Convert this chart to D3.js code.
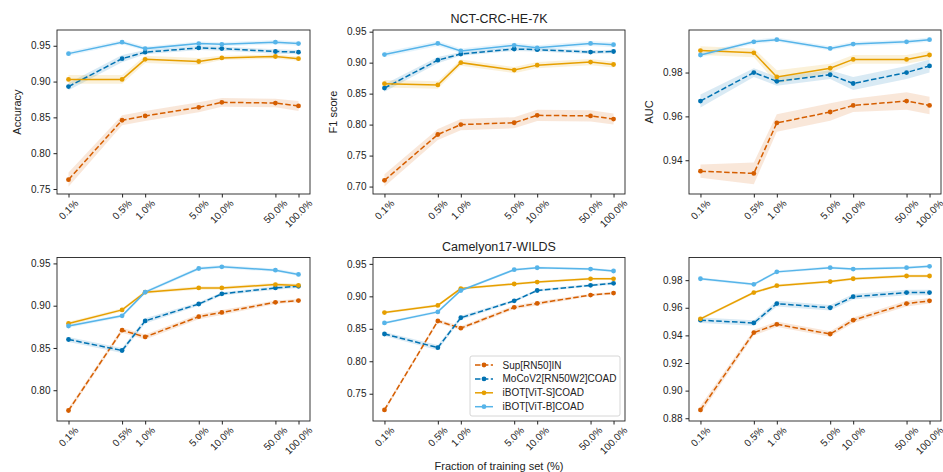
<!DOCTYPE html>
<html>
<head>
<meta charset="utf-8">
<script src="https://cdn.jsdelivr.net/npm/d3@7"></script>
<style>
  body { margin: 0; background: #fff; }
  text { font-family: "Liberation Sans", Arial, sans-serif; fill: #222; }
</style>
</head>
<body>
<svg width="943" height="472"></svg>
<script>
// x positions (fraction of training set, %)
const fractions = [0.1, 0.5, 1, 5, 10, 50, 100];
const fractionLabels = ["0.1%", "0.5%", "1.0%", "5.0%", "10.0%", "50.0%", "100.0%"];

const seriesNames = ["Sup[RN50]IN", "MoCoV2[RN50W2]COAD", "iBOT[ViT-S]COAD", "iBOT[ViT-B]COAD"];
const seriesColors = ["#D55E00", "#0072B2", "#E69F00", "#56B4E9"];
const seriesDashed = [true, true, false, false];

// rows: Sup, MoCo, iBOT-S, iBOT-B
const nctAccuracy = [
  [0.763, 0.846, 0.852, 0.864, 0.871, 0.870, 0.866],
  [0.893, 0.932, 0.941, 0.947, 0.946, 0.942, 0.941],
  [0.903, 0.903, 0.931, 0.928, 0.933, 0.935, 0.932],
  [0.939, 0.955, 0.946, 0.953, 0.952, 0.955, 0.953]
];
const nctAccuracyStd = [
  [0.010, 0.007, 0.007, 0.007, 0.006, 0.006, 0.007],
  [0.005, 0.005, 0.003, 0.003, 0.003, 0.003, 0.003],
  [0.006, 0.006, 0.005, 0.005, 0.003, 0.003, 0.003],
  [0.003, 0.003, 0.003, 0.003, 0.003, 0.003, 0.003]
];
const nctF1 = [
  [0.710, 0.784, 0.800, 0.803, 0.815, 0.814, 0.809],
  [0.859, 0.904, 0.914, 0.922, 0.921, 0.917, 0.918],
  [0.866, 0.864, 0.900, 0.888, 0.896, 0.901, 0.897],
  [0.913, 0.931, 0.919, 0.928, 0.924, 0.931, 0.929]
];
const nctF1Std = [
  [0.010, 0.009, 0.009, 0.009, 0.009, 0.009, 0.009],
  [0.006, 0.005, 0.003, 0.003, 0.003, 0.003, 0.003],
  [0.006, 0.006, 0.005, 0.005, 0.005, 0.005, 0.005],
  [0.004, 0.004, 0.004, 0.004, 0.004, 0.004, 0.004]
];
const nctAUC = [
  [0.935, 0.934, 0.957, 0.962, 0.965, 0.967, 0.965],
  [0.967, 0.980, 0.976, 0.979, 0.975, 0.980, 0.983],
  [0.990, 0.989, 0.978, 0.982, 0.986, 0.986, 0.988],
  [0.988, 0.994, 0.995, 0.991, 0.993, 0.994, 0.995]
];
const nctAUCStd = [
  [0.003, 0.005, 0.004, 0.004, 0.003, 0.004, 0.004],
  [0.003, 0.002, 0.002, 0.002, 0.003, 0.003, 0.003],
  [0.002, 0.002, 0.003, 0.002, 0.002, 0.002, 0.002],
  [0.001, 0.001, 0.001, 0.001, 0.001, 0.001, 0.001]
];
const camAccuracy = [
  [0.776, 0.871, 0.863, 0.887, 0.892, 0.904, 0.906],
  [0.860, 0.847, 0.882, 0.902, 0.914, 0.921, 0.923],
  [0.879, 0.895, 0.916, 0.921, 0.921, 0.925, 0.924],
  [0.876, 0.888, 0.916, 0.944, 0.946, 0.942, 0.937]
];
const camAccuracyStd = [
  [0.003, 0.003, 0.003, 0.003, 0.003, 0.002, 0.002],
  [0.003, 0.003, 0.003, 0.002, 0.002, 0.002, 0.002],
  [0.002, 0.002, 0.002, 0.002, 0.002, 0.002, 0.002],
  [0.002, 0.002, 0.002, 0.002, 0.002, 0.002, 0.002]
];
const camF1 = [
  [0.725, 0.862, 0.851, 0.883, 0.889, 0.902, 0.905],
  [0.842, 0.821, 0.867, 0.893, 0.909, 0.917, 0.920],
  [0.875, 0.886, 0.912, 0.919, 0.922, 0.927, 0.927],
  [0.859, 0.876, 0.909, 0.941, 0.944, 0.942, 0.939]
];
const camF1Std = [
  [0.003, 0.003, 0.003, 0.003, 0.003, 0.002, 0.002],
  [0.003, 0.004, 0.003, 0.002, 0.002, 0.002, 0.002],
  [0.002, 0.002, 0.002, 0.002, 0.002, 0.002, 0.002],
  [0.002, 0.002, 0.002, 0.002, 0.002, 0.002, 0.002]
];
const camAUC = [
  [0.886, 0.942, 0.948, 0.941, 0.951, 0.963, 0.965],
  [0.951, 0.949, 0.963, 0.960, 0.968, 0.971, 0.971],
  [0.952, 0.971, 0.976, 0.979, 0.981, 0.983, 0.983],
  [0.981, 0.977, 0.986, 0.989, 0.988, 0.989, 0.990]
];
const camAUCStd = [
  [0.003, 0.002, 0.002, 0.002, 0.002, 0.002, 0.002],
  [0.002, 0.002, 0.002, 0.002, 0.002, 0.002, 0.002],
  [0.001, 0.001, 0.001, 0.001, 0.001, 0.001, 0.001],
  [0.001, 0.001, 0.001, 0.001, 0.001, 0.001, 0.001]
];

// panel config
const panels = [
  { data: nctAccuracy, std: nctAccuracyStd, col: 0, row: 0, yDomain: [0.743, 0.972], yTicks: [0.75, 0.80, 0.85, 0.90, 0.95], ylabel: "Accuracy" },
  { data: nctF1, std: nctF1Std, col: 1, row: 0, yDomain: [0.688, 0.9527], yTicks: [0.70, 0.75, 0.80, 0.85, 0.90, 0.95], ylabel: "F1 score", title: "NCT-CRC-HE-7K" },
  { data: nctAUC, std: nctAUCStd, col: 2, row: 0, yDomain: [0.9246, 0.9994], yTicks: [0.94, 0.96, 0.98], ylabel: "AUC" },
  { data: camAccuracy, std: camAccuracyStd, col: 0, row: 1, yDomain: [0.7636, 0.957], yTicks: [0.80, 0.85, 0.90, 0.95] },
  { data: camF1, std: camF1Std, col: 1, row: 1, yDomain: [0.708, 0.9598], yTicks: [0.75, 0.80, 0.85, 0.90, 0.95], title: "Camelyon17-WILDS", legend: true },
  { data: camAUC, std: camAUCStd, col: 2, row: 1, yDomain: [0.878, 0.9964], yTicks: [0.88, 0.90, 0.92, 0.94, 0.96, 0.98] }
];

const svg = d3.select("svg");
const colX = [[57, 310], [373, 625], [689, 941]];
const rowY = [[30, 194], [257.5, 421]];
const fontSize = 10;

panels.forEach(p => {
  const [x0, x1] = colX[p.col], [y0, y1] = rowY[p.row];
  const x = d3.scaleLog().domain([Math.pow(10, -1.15), Math.pow(10, 2.15)]).range([x0, x1]);
  const y = d3.scaleLinear().domain(p.yDomain).range([y1, y0]);
  const g = svg.append("g");

  // bands
  p.data.forEach((vals, si) => {
    const area = d3.area()
      .x((d, i) => x(fractions[i]))
      .y0((d, i) => y(d - p.std[si][i]))
      .y1((d, i) => y(d + p.std[si][i]));
    g.append("path").attr("d", area(vals))
      .attr("fill", seriesColors[si]).attr("fill-opacity", 0.15);
  });
  // lines
  p.data.forEach((vals, si) => {
    const line = d3.line().x((d, i) => x(fractions[i])).y(d => y(d));
    g.append("path").attr("d", line(vals))
      .attr("fill", "none").attr("stroke", seriesColors[si]).attr("stroke-width", 1.5)
      .attr("stroke-dasharray", seriesDashed[si] ? "5.5,2.4" : null);
    g.selectAll(null).data(vals).enter().append("circle")
      .attr("cx", (d, i) => x(fractions[i])).attr("cy", d => y(d)).attr("r", 2.4)
      .attr("fill", seriesColors[si]);
  });

  // frame
  g.append("rect").attr("x", x0).attr("y", y0).attr("width", x1 - x0).attr("height", y1 - y0)
    .attr("fill", "none").attr("stroke", "#222").attr("stroke-width", 0.9);

  // y axis
  const yAxis = d3.axisLeft(y).tickValues(p.yTicks).tickFormat(d3.format(".2f")).tickSize(3.5).tickPadding(3);
  const ya = g.append("g").attr("transform", `translate(${x0},0)`).call(yAxis);
  ya.select(".domain").remove();
  ya.selectAll("line").attr("stroke", "#222");
  ya.selectAll("text").attr("font-size", fontSize).attr("fill", "#222")
    .style("font-family", "'Liberation Sans', Arial, sans-serif");

  // x axis, labels rotated 45 degrees and centred on the tick
  const xAxis = d3.axisBottom(x).tickValues(fractions).tickFormat("").tickSize(3.5);
  const xa = g.append("g").attr("transform", `translate(0,${y1})`).call(xAxis);
  xa.select(".domain").remove();
  xa.selectAll("line").attr("stroke", "#222");
  fractions.forEach((f, i) => {
    const t = g.append("text").attr("font-size", fontSize)
      .attr("text-anchor", "middle").attr("dominant-baseline", "central")
      .text(fractionLabels[i]);
    const w = t.node().getComputedTextLength();
    const h = fontSize * 1.15;
    const half = (w + h) * Math.SQRT1_2 / 2;
    const cx = x(f), cy = y1 + 3.5 + half;
    t.attr("transform", `translate(${cx},${cy}) rotate(-45)`);
  });

  if (p.ylabel) {
    g.append("text").attr("font-size", 11).attr("text-anchor", "middle")
      .attr("transform", `translate(${x0 - 36},${(y0 + y1) / 2}) rotate(-90)`)
      .text(p.ylabel);
  }
  if (p.title) {
    g.append("text").attr("font-size", 12.5).attr("text-anchor", "middle")
      .attr("x", (x0 + x1) / 2).attr("y", y0 - 7).text(p.title);
  }
  if (p.legend) {
    const lx = 470, ly = 356, lw = 150, lh = 60;
    const lg = g.append("g");
    lg.append("rect").attr("x", lx).attr("y", ly).attr("width", lw).attr("height", lh)
      .attr("rx", 2).attr("fill", "#fff").attr("fill-opacity", 0.8)
      .attr("stroke", "#ccc").attr("stroke-width", 0.8);
    seriesNames.forEach((name, si) => {
      const yy = ly + 9 + si * 13.9;
      lg.append("line").attr("x1", lx + 5).attr("x2", lx + 23).attr("y1", yy).attr("y2", yy)
        .attr("stroke", seriesColors[si]).attr("stroke-width", 1.5)
        .attr("stroke-dasharray", seriesDashed[si] ? "5.5,2.4" : null);
      lg.append("circle").attr("cx", lx + 14).attr("cy", yy).attr("r", 2.4).attr("fill", seriesColors[si]);
      lg.append("text").attr("x", lx + 32.5).attr("y", yy).attr("dominant-baseline", "central")
        .attr("font-size", 10).text(name);
    });
  }
});

svg.append("text").attr("x", 499).attr("y", 470).attr("text-anchor", "middle")
  .attr("font-size", 11).text("Fraction of training set (%)");
</script>
</body>
</html>
